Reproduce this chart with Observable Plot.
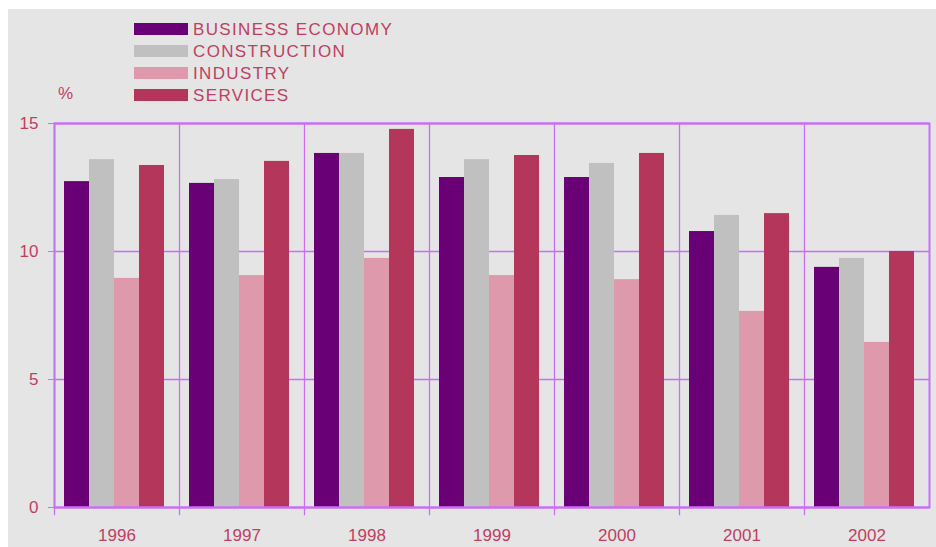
<!DOCTYPE html>
<html>
<head>
<meta charset="utf-8">
<script src="https://cdn.jsdelivr.net/npm/d3@7"></script>
<script src="https://cdn.jsdelivr.net/npm/@observablehq/plot@0.6"></script>
<style>
  html, body { margin: 0; padding: 0; background: #ffffff; }
  #wrap { position: relative; width: 936px; height: 547px; overflow: hidden; font-family: "Liberation Sans", Arial, sans-serif; }
  #bg { position: absolute; left: 8px; top: 9px; right: 0; bottom: 0; background: #e5e5e5; }
  #chart { position: absolute; left: 0; top: 0; }
  #legend { position: absolute; left: 134px; top: 18px; }
  .row { display: flex; align-items: center; height: 22px; }
  .sw { width: 54px; height: 12px; margin-right: 5px; }
  .lab { font-size: 17px; letter-spacing: 1.35px; color: #c0405f; line-height: 17px; }
  #unit { position: absolute; left: 58px; top: 84px; font-size: 17px; color: #c0405f; }
</style>
</head>
<body>
<div id="wrap">
  <div id="bg"></div>
  <div id="chart"></div>
  <div id="legend"></div>
  <div id="unit">%</div>
</div>
<script>
const years = ["1996", "1997", "1998", "1999", "2000", "2001", "2002"];
const series = ["BUSINESS ECONOMY", "CONSTRUCTION", "INDUSTRY", "SERVICES"];
const colors = ["#6a0075", "#c0c0c0", "#de99ad", "#b5365b"];
const businessEconomy = [12.73, 12.66, 13.83, 12.89, 12.89, 10.78, 9.38];
const construction    = [13.59, 12.81, 13.83, 13.59, 13.44, 11.41, 9.73];
const industry        = [8.95, 9.06, 9.73, 9.06, 8.90, 7.66, 6.45];
const services        = [13.36, 13.52, 14.77, 13.75, 13.83, 11.48, 10.00];
const yTicks = [0, 5, 10, 15];

const seriesValues = [businessEconomy, construction, industry, services];
const data = [];
years.forEach((yr, i) => {
  series.forEach((s, j) => data.push({year: yr, series: s, value: seriesValues[j][i]}));
});

const violet = "#c86ef8";
const textColor = "#c0405f";

const chart = Plot.plot({
  width: 936,
  height: 547,
  marginLeft: 53,
  marginRight: 7,
  marginTop: 123,
  marginBottom: 40,
  style: { fontFamily: "Liberation Sans, Arial, sans-serif", fontSize: "17px", background: "transparent", overflow: "visible" },
  fx: { domain: years, padding: 0, label: null },
  x: { domain: series, paddingInner: 0, paddingOuter: 0.47, align: 0.4, axis: null },
  y: { domain: [0, 15], label: null },
  color: { domain: series, range: colors },
  marks: [
    Plot.ruleY([5, 10], { stroke: violet, strokeWidth: 1.3, strokeOpacity: 1 }),
    Plot.frame({ anchor: "left", stroke: violet, strokeWidth: 1.3, strokeOpacity: 1, insetBottom: -7 }),
    Plot.barY(data, { fx: "year", x: "series", y: "value", fill: "series" }),
    Plot.ruleY([0, 15], { stroke: violet, strokeWidth: 2 }),
    Plot.frame({ facet: "super", stroke: violet, strokeWidth: 2 }),
    Plot.axisY({ ticks: yTicks, tickSize: 6, tickPadding: 10, stroke: violet, strokeOpacity: 1, fill: textColor, label: null, fontSize: 17 }),
    Plot.axisFx({ anchor: "bottom", tickSize: 0, tickPadding: 21, fill: textColor, label: null, fontSize: 17 })
  ]
});
document.getElementById("chart").appendChild(chart);

const legend = document.getElementById("legend");
series.forEach((s, i) => {
  const row = document.createElement("div");
  row.className = "row";
  const sw = document.createElement("div");
  sw.className = "sw";
  sw.style.background = colors[i];
  const lab = document.createElement("div");
  lab.className = "lab";
  lab.textContent = s;
  row.appendChild(sw);
  row.appendChild(lab);
  legend.appendChild(row);
});
</script>
</body>
</html>
